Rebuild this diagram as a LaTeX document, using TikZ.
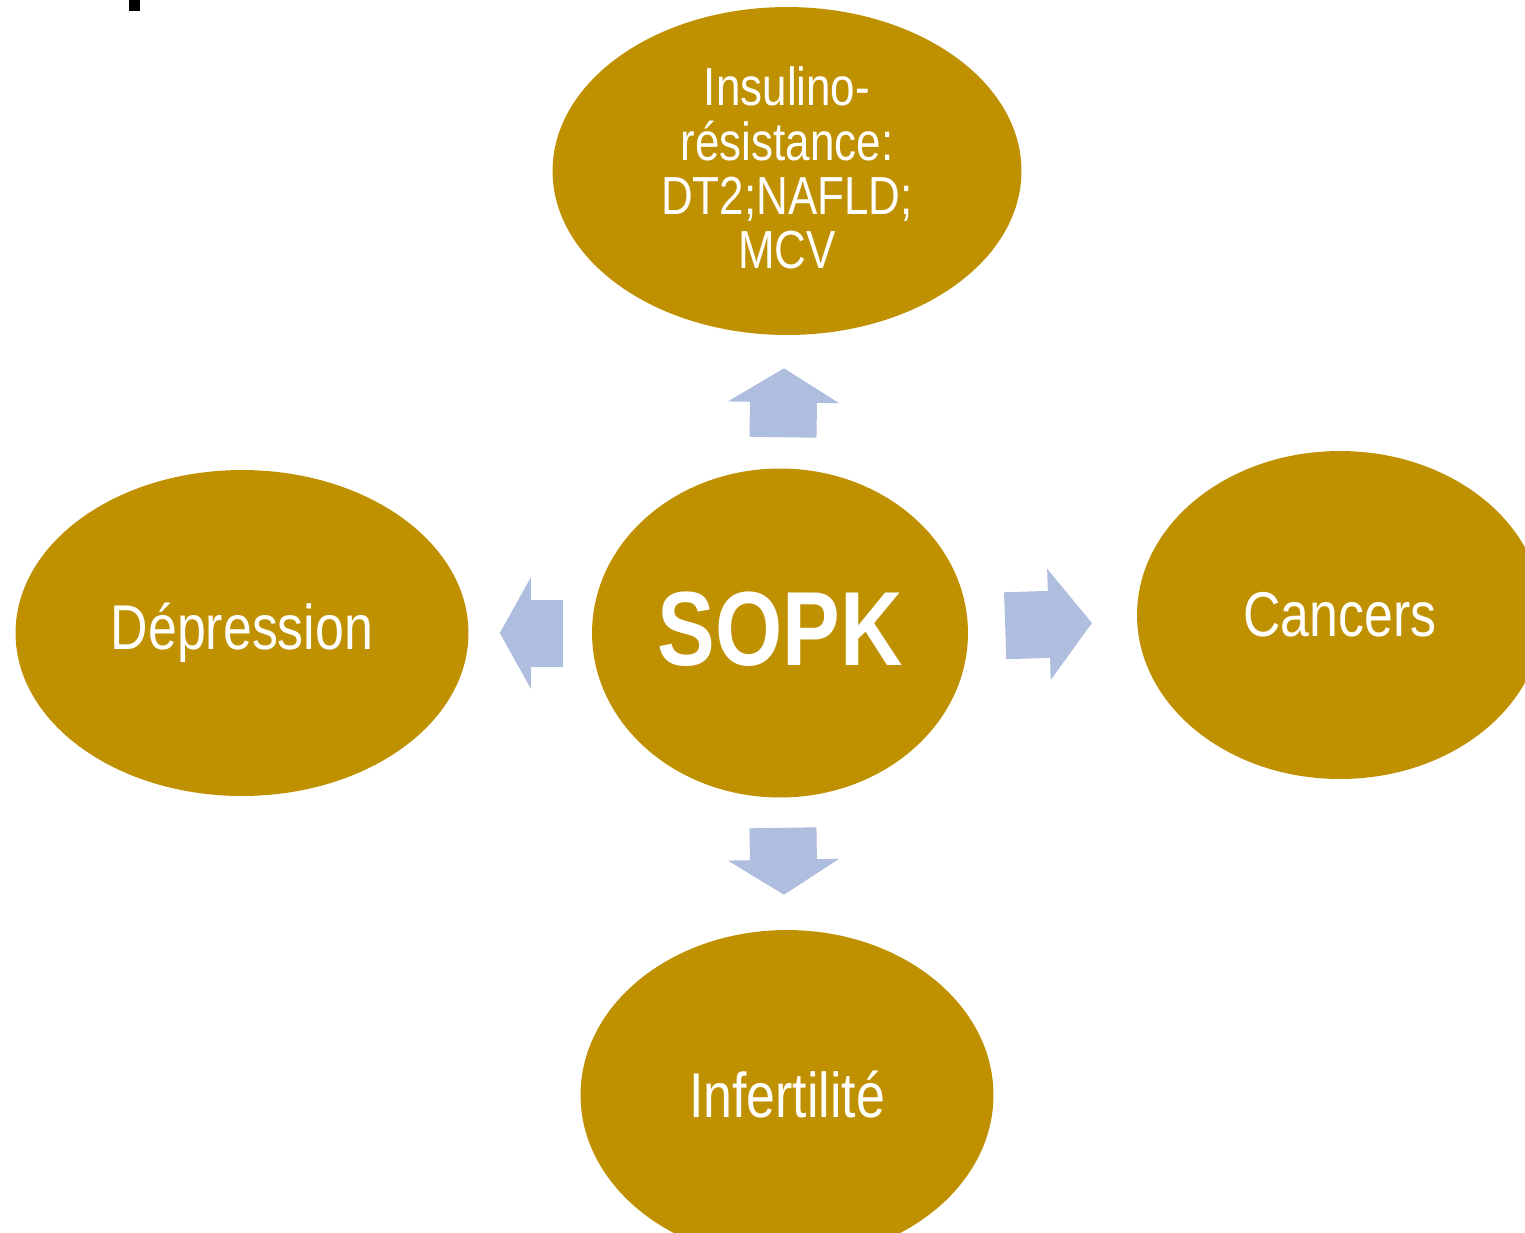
\documentclass[tikz,border=0pt]{standalone}
\usepackage{fontspec}
\usepackage{tikz}
\usetikzlibrary{shapes.geometric,arrows.meta,positioning}
\newfontfamily\narrowsans{Liberation Sans}[FakeStretch=0.82]
\definecolor{SopkGold}{HTML}{BF9000}
\definecolor{SopkArrow}{HTML}{AFBDDF}
\tikzset{
  bubble/.style={ellipse,fill=SopkGold,text=white,inner sep=0pt,align=center,font=\narrowsans},
  blockarrow/.style={line width=1.34cm,draw=SopkArrow,-{Triangle[length=#1,width=2.22cm,line width=1pt]}},
}
\begin{document}
\begin{tikzpicture}[x=0.02cm,y=-0.02cm]
  \clip (0,0) rectangle (1525,1232);
  % cut-off mark, top left
  \fill[black] (129,0) rectangle (140,11);

  % Centre
  \node[bubble,minimum width=7.52cm,minimum height=6.58cm,font=\narrowsans\bfseries\fontsize{60}{62}\selectfont] (sopk) at (780,633) {\raisebox{2pt}[\height][\depth]{SOPK}};

  % Consequences
  \node[bubble,minimum width=9.38cm,minimum height=6.56cm,font=\narrowsans\fontsize{30.5}{30.5}\selectfont] (insulin) at (787,171) {\raisebox{-2.5pt}[\height][\depth]{\begin{tabular}{@{}c@{}}Insulino-\\résistance:\\DT2;NAFLD;\\MCV\end{tabular}}};
  \node[bubble,minimum width=9.06cm,minimum height=6.52cm,font=\narrowsans\fontsize{36}{40}\selectfont] (depression) at (242,633) {Dépression};
  \node[bubble,minimum width=8.12cm,minimum height=6.56cm,font=\narrowsans\fontsize{36}{40}\selectfont] (cancers) at (1340,615) {Cancers};
  \node[bubble,minimum width=8.26cm,minimum height=6.6cm,font=\narrowsans\fontsize{36}{40}\selectfont] (infert) at (787,1095) {Infertilité};

  % Block arrows
  \draw[blockarrow=0.68cm,shorten <=0.62cm,shorten >=0.66cm] (sopk) -- (insulin);
  \draw[blockarrow=0.62cm,shorten <=0.58cm,shorten >=0.62cm] (sopk) -- (depression);
  \draw[blockarrow=0.86cm,shorten <=0.74cm,shorten >=0.9cm] (sopk) -- (cancers);
  \draw[blockarrow=0.7cm,shorten <=0.6cm,shorten >=0.7cm] (sopk) -- (infert);
\end{tikzpicture}
\end{document}
